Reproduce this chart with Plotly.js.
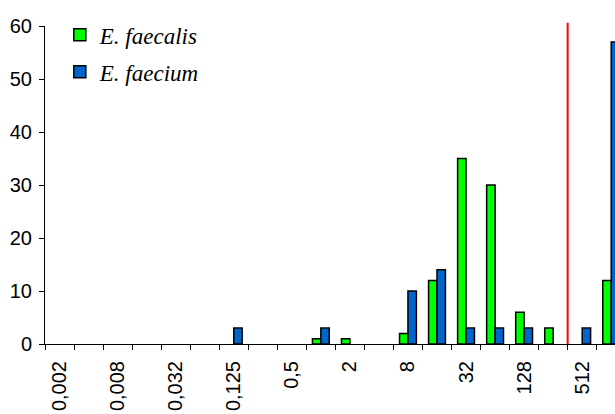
<!DOCTYPE html>
<html>
<head>
<meta charset="utf-8">
<script src="https://cdn.plot.ly/plotly-3.0.1.min.js"></script>
<style>html,body{margin:0;padding:0;background:#fff;}#chart{width:615px;height:414px;}</style>
</head>
<body>
<div id="chart"></div>
<script>
const categories = ["0,002","0,004","0,008","0,016","0,032","0,064","0,125","0,25","0,5","1","2","4","8","16","32","64","128","256","512","1024"];
const faecalis = [0,0,0,0,0,0,0,0,0,1,1,0,2,12,35,30,6,3,0,12];
const faecium  = [0,0,0,0,0,0,3,0,0,3,0,0,10,14,3,3,3,0,3,57];
const seriesNames = ["E. faecalis","E. faecium"];
const breakpointIndex = 17.5;

const idx = categories.map((c,i)=>i);
const shownIdx = idx.filter(i => i % 2 === 0);
const shownText = shownIdx.map(i => categories[i]);
const hideZero = v => (v === 0 ? null : v);

const traces = [
  {type:'bar', x: idx, y: faecalis.map(hideZero), name: seriesNames[0], legendgroup:'a',
   marker:{color:'#00FF00', line:{color:'#000', width:1.5}}},
  {type:'bar', x: idx, y: faecium.map(hideZero), name: seriesNames[1], legendgroup:'b',
   marker:{color:'#0066CC', line:{color:'#000', width:1.5}}}
];

const layout = {
  width:615, height:414,
  margin:{l:45, r:0, t:26, b:70, pad:0},
  paper_bgcolor:'#fff', plot_bgcolor:'#fff',
  barmode:'group', bargap:0.42, bargroupgap:0,
  font:{family:'"Liberation Sans", Arial, sans-serif', size:20, color:'#000'},
  showlegend:true,
  legend:{x:0.026, y:1.04, xanchor:'left', yanchor:'top', bgcolor:'rgba(0,0,0,0)',
          font:{family:'"Liberation Serif", "Times New Roman", serif', size:23, style:'italic', color:'#000'},
          tracegroupgap:4, itemwidth:30},
  xaxis:{type:'linear', range:[-0.5, 19.13], showgrid:false, zeroline:false,
         showline:true, linecolor:'#000', linewidth:1,
         tickmode:'array', tickvals: shownIdx, ticktext: shownText, tickangle:-90,
         ticks:'', tickfont:{size:20}, ticklabelstandoff:8,
         minor:{tick0:-0.5, dtick:1, ticks:'outside', ticklen:5, tickcolor:'#000', tickwidth:1, showgrid:false}},
  yaxis:{range:[0,60], dtick:10, showgrid:false, zeroline:false,
         showline:true, linecolor:'#000', linewidth:1,
         ticks:'outside', ticklen:5, tickcolor:'#000', tickfont:{size:20}, ticklabelstandoff:3},
  shapes:[{type:'line', xref:'x', yref:'paper', x0:breakpointIndex, x1:breakpointIndex, y0:0, y1:1.01,
           line:{color:'#FF0000', width:2}}]
};

Plotly.newPlot('chart', traces, layout, {displayModeBar:false, staticPlot:true});
</script>
</body>
</html>
